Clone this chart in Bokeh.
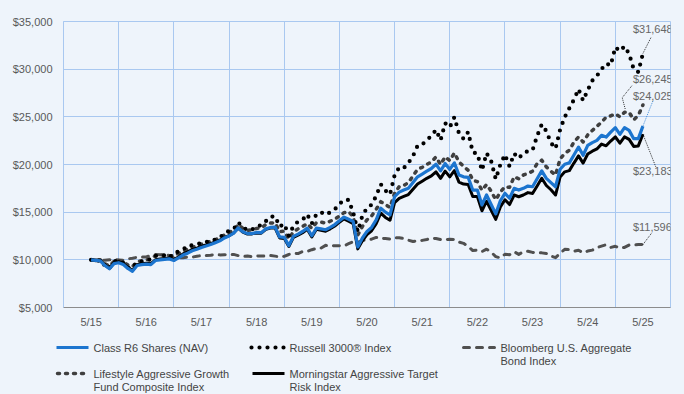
from bokeh.plotting import figure
from bokeh.models import FixedTicker, NumeralTickFormatter, Label
from bokeh.embed import file_html
from bokeh.resources import INLINE
from bokeh.core.properties import value

# ---------------- data (monthly, 5/15 .. 5/25) ----------------
months = list(range(121))
tick_positions = [0, 12, 24, 36, 48, 60, 72, 84, 96, 108, 120]
tick_labels = ["5/15", "5/16", "5/17", "5/18", "5/19", "5/20", "5/21", "5/22", "5/23", "5/24", "5/25"]

class_r6 = [
    10000, 9950, 9900, 9400, 9060, 9600, 9700, 9500, 9100, 8800, 9400, 9500,
    9550, 9500, 9930, 10000, 10050, 10100, 9930, 10200, 10500, 10700, 10950, 11100,
    11300, 11450, 11600, 11800, 12000, 12300, 12500, 12800, 13350, 12950, 12750, 12750,
    12870, 12850, 13250, 13400, 13440, 12400, 12360, 11490, 12460, 12700, 12980, 13330,
    12530, 13330, 13250, 13160, 13400, 13700, 14100, 14480, 14250, 14020, 11350, 12290,
    12980, 13400, 14200, 15420, 15000, 14720, 16630, 17100, 17320, 17500, 18100, 18710,
    19000, 19300, 19580, 20030, 19330, 20100, 19480, 20170, 18900, 18710, 18650, 17320,
    17320, 15760, 16800, 15800, 14820, 16200, 16980, 16460, 17500, 17320, 17500, 17740,
    17670, 18500, 19330, 18540, 18100, 17670, 19500, 20030, 20170, 21000, 21830, 20970,
    22010, 22300, 22530, 23060, 22880, 23400, 23860, 23160, 23860, 23580, 22710, 22710,
    24025,
]

russell_3000 = [
    10000, 9800, 9990, 9400, 9130, 9850, 9900, 9700, 9150, 9140, 9760, 9820,
    10000, 10020, 10420, 10440, 10450, 10220, 10680, 10880, 11070, 11500, 11510, 11630,
    11780, 11850, 12080, 12110, 12400, 12670, 13060, 13200, 13920, 13410, 13120, 13160,
    13530, 13620, 14050, 14510, 14580, 13490, 13770, 12520, 13560, 14010, 14200, 14770,
    13820, 14780, 14990, 14720, 14980, 15290, 15850, 16300, 16280, 14960, 12960, 14640,
    15440, 15780, 16700, 17930, 17270, 16850, 18870, 19690, 19620, 20170, 20880, 21980,
    22080, 22590, 22980, 23640, 22550, 24330, 23900, 24960, 23270, 22690, 23410, 21270,
    21150, 19370, 21200, 20360, 18470, 19990, 21030, 19790, 21150, 20640, 21200, 21390,
    21500, 23000, 24200, 23500, 22270, 21670, 23670, 24970, 25900, 26800, 27900, 26700,
    27800, 28800, 29300, 30000, 30600, 30400, 32300, 31900, 32400, 31600, 30000, 29700,
    31648,
]

bloomberg_agg = [
    10000, 9890, 9960, 9950, 10020, 10020, 9990, 9960, 10100, 10170, 10260, 10300,
    10300, 10480, 10550, 10540, 10530, 10450, 10200, 10210, 10230, 10300, 10290, 10370,
    10450, 10440, 10480, 10570, 10520, 10530, 10520, 10570, 10440, 10340, 10400, 10330,
    10400, 10390, 10390, 10450, 10390, 10310, 10370, 10560, 10670, 10660, 10870, 10870,
    11060, 11200, 11230, 11520, 11460, 11490, 11480, 11470, 11690, 11900, 11830, 12040,
    12100, 12170, 12350, 12250, 12240, 12180, 12300, 12320, 12230, 12060, 11920, 12010,
    12040, 12130, 12260, 12240, 12130, 12130, 12160, 12130, 11860, 11730, 11400, 10970,
    11030, 10860, 11120, 10800, 10340, 10200, 10580, 10530, 10850, 10570, 10840, 10900,
    10780, 10740, 10730, 10660, 10400, 10230, 10690, 11100, 11070, 10910, 11010, 10740,
    10920, 11020, 11280, 11440, 11590, 11300, 11420, 11240, 11300, 11550, 11550, 11600,
    11596,
]

lifestyle_composite = [
    10000, 9980, 10000, 9600, 9350, 9850, 9930, 9800, 9450, 9300, 9800, 9900,
    10000, 10100, 10450, 10510, 10500, 10350, 10500, 10650, 10900, 11150, 11300, 11450,
    11650, 11800, 11950, 12100, 12350, 12600, 12850, 13150, 13700, 13300, 13100, 13150,
    13300, 13350, 13700, 13850, 13900, 12950, 13000, 12200, 12950, 13250, 13500, 13800,
    13300, 13900, 13950, 13850, 14050, 14270, 14600, 14950, 15060, 14500, 12600, 13500,
    14200, 14600, 15300, 16100, 15800, 15500, 17000, 17670, 17800, 18100, 18800, 19500,
    19700, 20000, 20270, 20790, 20000, 20800, 20400, 21210, 20270, 19800, 19400, 18360,
    18200, 17300, 17900, 17200, 16300, 17100, 17670, 17600, 18710, 18500, 18900, 19060,
    19300, 20100, 20450, 19750, 19300, 18890, 20600, 21150, 21500, 22360, 22880, 22360,
    23100, 23570, 24000, 24440, 24960, 25100, 25310, 25000, 25480, 25480, 24690, 25140,
    26245,
]

morningstar = [
    10000, 9980, 9950, 9450, 9120, 9700, 9800, 9600, 9200, 8900, 9500, 9600,
    9650, 9600, 10000, 10080, 10150, 10200, 10020, 10300, 10620, 10830, 11080, 11230,
    11420, 11550, 11700, 11880, 12070, 12350, 12540, 12820, 13330, 12900, 12700, 12720,
    12820, 12800, 13200, 13330, 13350, 12300, 12250, 11400, 12350, 12580, 12850, 13200,
    12400, 13200, 13100, 13000, 13250, 13550, 13950, 14300, 14050, 13800, 11150, 12000,
    12650, 13050, 13800, 14900, 14450, 14150, 16000, 16450, 16650, 16850, 17400, 17950,
    18250, 18550, 18800, 19230, 18550, 19300, 18700, 19350, 18150, 17950, 17900, 16650,
    16650, 15150, 16150, 15200, 14250, 15550, 16300, 15800, 16800, 16620, 16800, 17050,
    16950, 17750, 18560, 17800, 17350, 16800, 18700, 19230, 19360, 20150, 20900, 20150,
    21100, 21400, 21630, 22140, 21960, 22460, 22900, 22230, 22900, 22630, 21900, 21950,
    23183,
]

# ---------------- styling ----------------
BG = "#EEF4FB"
GRID = "#A9C8F0"
FONT = "Liberation Sans"
TXT = "#595959"
BLUE = "#1C75CF"
DARK = "#3F3F3F"
GREY = "#505050"

p = figure(width=684, height=330, x_range=(-6, 126), y_range=(5000, 35000),
           output_backend="svg", toolbar_location=None,
           min_border_left=63, min_border_right=14, min_border_top=21, min_border_bottom=22)
p.background_fill_color = BG
p.border_fill_color = BG
p.outline_line_color = GRID
p.outline_line_width = 1

p.xaxis.ticker = FixedTicker(ticks=tick_positions)
p.xaxis.major_label_overrides = {t: l for t, l in zip(tick_positions, tick_labels)}
p.xgrid.ticker = FixedTicker(ticks=[t + 6 for t in tick_positions[:-1]])
p.yaxis.ticker = FixedTicker(ticks=[5000, 10000, 15000, 20000, 25000, 30000, 35000])
p.yaxis.formatter = NumeralTickFormatter(format="$0,0")

for ax in (p.xaxis, p.yaxis):
    ax.major_tick_out = 0
    ax.major_tick_in = 0
    ax.minor_tick_out = 0
    ax.minor_tick_in = 0
    ax.major_label_text_font = FONT
    ax.major_label_text_font_size = "11px"
    ax.major_label_text_color = TXT
p.xaxis.major_label_standoff = 8
p.yaxis.major_label_standoff = 11
p.xaxis.axis_line_color = "#8C8C8C"
p.yaxis.axis_line_color = GRID

p.xgrid.grid_line_color = GRID
p.ygrid.grid_line_color = GRID
p.xgrid.grid_line_width = 1
p.ygrid.grid_line_width = 1

RUSSELL_DASH = "0 8"
LIFE_DASH = "2 6"
BOND_DASH = "6 7"

p.line(months, bloomberg_agg, line_color=GREY, line_width=3, line_dash=BOND_DASH,
       line_cap="round", line_join="round")
p.line(months, lifestyle_composite, line_color=DARK, line_width=3.5, line_dash=LIFE_DASH,
       line_cap="round", line_join="round")
p.line(months, russell_3000, line_color="black", line_width=4.2, line_dash=RUSSELL_DASH,
       line_cap="round", line_join="round")
p.line(months, morningstar, line_color="black", line_width=3, line_join="round")
p.line(months, class_r6, line_color=BLUE, line_width=3.2, line_join="round")

# end-value labels with leader lines
last = months[-1]
ends = [
    (russell_3000[-1], 24, (1.8, 1717), "black"),
    (lifestyle_composite[-1], 26, None, "black"),
    (class_r6[-1], 30, (2.2, 2675), BLUE),
    (morningstar[-1], -37, (2.8, -3433), "black"),
    (bloomberg_agg[-1], 18, (1.9, 1214), "black"),
]
for val, dy, lead, col in ends:
    p.add_layout(Label(x=last, y=val, x_offset=-10, y_offset=dy, text="${:,}".format(val),
                       text_font=FONT, text_font_size="11px", text_color="#666666",
                       text_baseline="middle", text_align="left"))
    if lead is not None:
        p.line([last, last + lead[0]], [val, val + lead[1]], line_color=col, line_width=0.8,
               line_dash="1 1")
# lifestyle leader (V shape toward the label)
lv = lifestyle_composite[-1]
p.line([last - 2.4, last - 4.5, last - 3.8], [lv + 2015, lv + 765, lv - 515],
       line_color="black", line_width=0.8, line_dash="1 1")

# ---------------- legend figure (separate root, no frame alignment) ----------------
lg = figure(width=684, height=66, x_range=(0, 684), y_range=(0, 66), output_backend="svg",
            toolbar_location=None, min_border=0, margin=(-2, 0, 0, 0))
lg.axis.visible = False
lg.grid.visible = False
lg.outline_line_color = None
lg.background_fill_color = BG
lg.border_fill_color = BG

lg.line([56, 88], [47, 47], line_color=BLUE, line_width=3)
lg.line([251, 285], [47, 47], line_color="black", line_width=4.2, line_dash=RUSSELL_DASH, line_cap="round")
lg.line([463, 494], [47, 47], line_color=GREY, line_width=3, line_dash=BOND_DASH, line_cap="round")
lg.line([57, 88], [21, 21], line_color=DARK, line_width=3.5, line_dash=LIFE_DASH, line_cap="round")
lg.line([252, 284], [21, 21], line_color="black", line_width=3)

lg.text(x=[93, 289, 500, 500, 93, 93, 289, 289],
        y=[47, 47, 47, 34, 21, 8, 21, 8],
        text=["Class R6 Shares (NAV)", "Russell 3000® Index", "Bloomberg U.S. Aggregate", "Bond Index",
              "Lifestyle Aggressive Growth", "Fund Composite Index",
              "Morningstar Aggressive Target", "Risk Index"],
        text_font=value(FONT), text_font_size="11px", text_color="#444444",
        text_baseline="middle", text_align="left")

html = file_html([p, lg], INLINE)
html = html.replace("</head>", "<style>html, body { background: %s; }</style></head>" % BG, 1)
open("out.html", "w").write(html)
